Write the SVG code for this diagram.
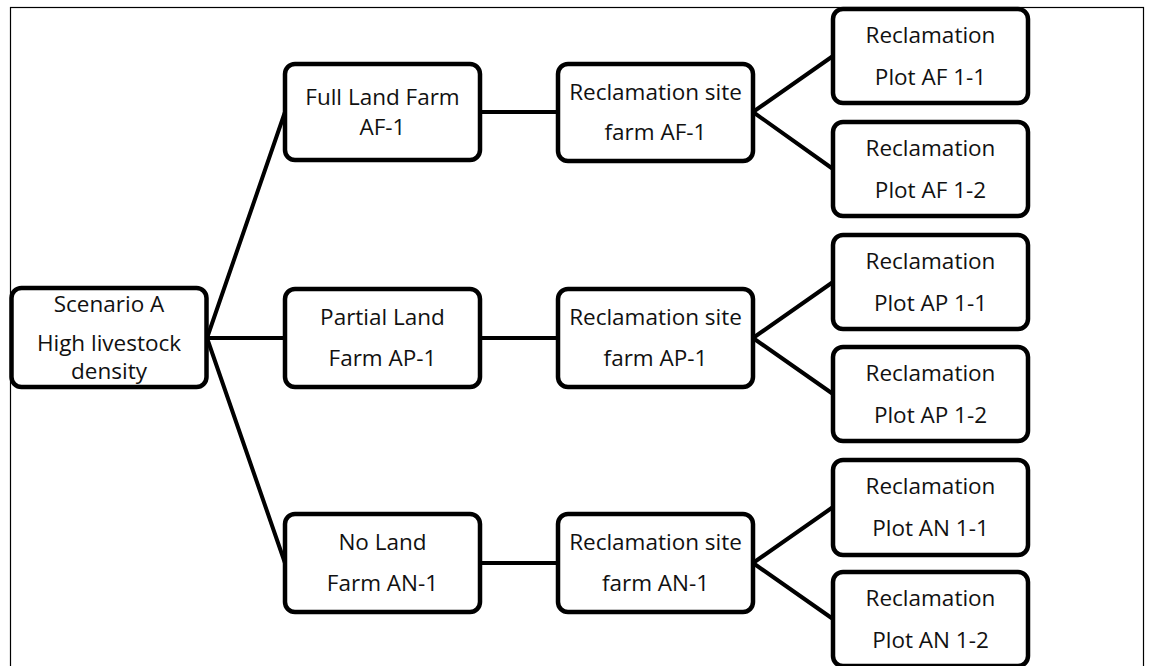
<svg xmlns="http://www.w3.org/2000/svg" width="1149" height="666" viewBox="0 0 1149 666">
<style>
.box{fill:#fff;stroke:#000;stroke-width:4.5}
.lbl{font-family:"Open Sans","Noto Sans","Liberation Sans",sans-serif;font-size:22.5px;fill:#111;text-anchor:middle}
.con line{stroke:#000;stroke-width:4;stroke-linecap:round}
</style>
<rect x="0" y="0" width="1149" height="666" fill="#fff"/>
<rect x="10.5" y="7.5" width="1133" height="700" fill="none" stroke="#000" stroke-width="1.2"/>
<g id="connectors" class="con">
<line x1="207" y1="338" x2="285" y2="112"/>
<line x1="207" y1="338" x2="285" y2="338"/>
<line x1="207" y1="338" x2="285" y2="563"/>
<line x1="480" y1="112" x2="558" y2="112"/>
<line x1="480" y1="338" x2="558" y2="338"/>
<line x1="480" y1="563" x2="558" y2="563"/>
<line x1="753" y1="112" x2="833" y2="56"/>
<line x1="753" y1="112" x2="833" y2="169"/>
<line x1="753" y1="338" x2="833" y2="282"/>
<line x1="753" y1="338" x2="833" y2="394"/>
<line x1="753" y1="563" x2="833" y2="507"/>
<line x1="753" y1="563" x2="833" y2="619"/>
</g>
<g id="scenarioA">
<rect class="box" x="11.5" y="288" width="195" height="99" rx="10"/>
<text class="lbl" x="109" y="312">Scenario A</text>
<text class="lbl" x="109" y="351">High livestock</text>
<text class="lbl" x="109" y="379">density</text>
</g>
<g id="farmAF1">
<rect class="box" x="285" y="64" width="195" height="96" rx="10"/>
<text class="lbl" x="382.5" y="105">Full Land Farm</text>
<text class="lbl" x="382.5" y="135">AF-1</text>
</g>
<g id="farmAP1">
<rect class="box" x="285" y="289" width="195" height="98" rx="10"/>
<text class="lbl" x="382.5" y="325">Partial Land</text>
<text class="lbl" x="382.5" y="366">Farm AP-1</text>
</g>
<g id="farmAN1">
<rect class="box" x="285" y="514" width="195" height="98" rx="10"/>
<text class="lbl" x="382.5" y="550">No Land</text>
<text class="lbl" x="382.5" y="591">Farm AN-1</text>
</g>
<g id="siteAF1">
<rect class="box" x="558" y="64" width="195" height="97" rx="10"/>
<text class="lbl" x="655.5" y="100">Reclamation site</text>
<text class="lbl" x="655.5" y="140">farm AF-1</text>
</g>
<g id="siteAP1">
<rect class="box" x="558" y="289" width="195" height="98" rx="10"/>
<text class="lbl" x="655.5" y="325">Reclamation site</text>
<text class="lbl" x="655.5" y="366">farm AP-1</text>
</g>
<g id="siteAN1">
<rect class="box" x="558" y="514" width="195" height="98" rx="10"/>
<text class="lbl" x="655.5" y="550">Reclamation site</text>
<text class="lbl" x="655.5" y="591">farm AN-1</text>
</g>
<g id="plotAF11">
<rect class="box" x="833" y="9" width="195" height="94" rx="10"/>
<text class="lbl" x="930.5" y="43">Reclamation</text>
<text class="lbl" x="930.5" y="85">Plot AF 1-1</text>
</g>
<g id="plotAF12">
<rect class="box" x="833" y="122" width="195" height="94" rx="10"/>
<text class="lbl" x="930.5" y="156">Reclamation</text>
<text class="lbl" x="930.5" y="198">Plot AF 1-2</text>
</g>
<g id="plotAP11">
<rect class="box" x="833" y="235" width="195" height="94" rx="10"/>
<text class="lbl" x="930.5" y="269">Reclamation</text>
<text class="lbl" x="930.5" y="311">Plot AP 1-1</text>
</g>
<g id="plotAP12">
<rect class="box" x="833" y="347" width="195" height="94" rx="10"/>
<text class="lbl" x="930.5" y="381">Reclamation</text>
<text class="lbl" x="930.5" y="423">Plot AP 1-2</text>
</g>
<g id="plotAN11">
<rect class="box" x="833" y="460" width="195" height="95" rx="10"/>
<text class="lbl" x="930.5" y="494">Reclamation</text>
<text class="lbl" x="930.5" y="536">Plot AN 1-1</text>
</g>
<g id="plotAN12">
<rect class="box" x="833" y="572" width="195" height="94" rx="10"/>
<text class="lbl" x="930.5" y="606">Reclamation</text>
<text class="lbl" x="930.5" y="648">Plot AN 1-2</text>
</g>
</svg>
